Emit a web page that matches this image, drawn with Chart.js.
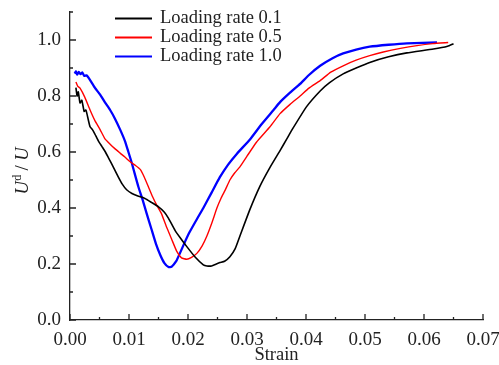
<!DOCTYPE html>
<html>
<head>
<meta charset="utf-8">
<script src="https://cdn.jsdelivr.net/npm/chart.js@4"></script>
<style>
  html, body { margin: 0; padding: 0; background: #fff; }
  #wrap { width: 499px; height: 365px; }
</style>
</head>
<body>
<div id="wrap"><canvas id="chart" width="499" height="365"></canvas></div>
<script>
/* data */
var labels = ["Loading rate 0.1", "Loading rate 0.5", "Loading rate 1.0"];
var colors = ["#000000", "#ff0000", "#0000ff"];

var strain01 = [0.0010, 0.0012, 0.0014, 0.0017, 0.0020, 0.0024, 0.0027, 0.0031, 0.0034, 0.0038, 0.0042, 0.0048, 0.0054, 0.0060, 0.0065, 0.0070, 0.0076, 0.0082, 0.0088, 0.0096, 0.0105, 0.0115, 0.0127, 0.0138, 0.0150, 0.0160, 0.0167, 0.0178, 0.0188, 0.0198, 0.0212, 0.0226, 0.0232, 0.0240, 0.0248, 0.0254, 0.0262, 0.0271, 0.0280, 0.0288, 0.0305, 0.0322, 0.0339, 0.0356, 0.0367, 0.0378, 0.0401, 0.0424, 0.0440, 0.0463, 0.0485, 0.0508, 0.0540, 0.0571, 0.0616, 0.0640, 0.0650];
var ratio01  = [0.830, 0.800, 0.815, 0.775, 0.785, 0.745, 0.750, 0.715, 0.690, 0.680, 0.665, 0.640, 0.620, 0.600, 0.580, 0.560, 0.535, 0.510, 0.487, 0.465, 0.452, 0.443, 0.434, 0.420, 0.404, 0.385, 0.363, 0.320, 0.290, 0.262, 0.225, 0.197, 0.193, 0.193, 0.200, 0.205, 0.210, 0.226, 0.255, 0.300, 0.395, 0.478, 0.545, 0.605, 0.645, 0.685, 0.762, 0.818, 0.848, 0.879, 0.900, 0.920, 0.940, 0.954, 0.968, 0.978, 0.987];

var strain05 = [0.0010, 0.0013, 0.0017, 0.0025, 0.0034, 0.0042, 0.0051, 0.0059, 0.0068, 0.0076, 0.0085, 0.0093, 0.0102, 0.0111, 0.0119, 0.0126, 0.0133, 0.0140, 0.0147, 0.0155, 0.0164, 0.0172, 0.0181, 0.0189, 0.0198, 0.0206, 0.0215, 0.0224, 0.0232, 0.0241, 0.0249, 0.0256, 0.0263, 0.0271, 0.0279, 0.0288, 0.0300, 0.0316, 0.0339, 0.0356, 0.0373, 0.0390, 0.0405, 0.0424, 0.0442, 0.0463, 0.0485, 0.0508, 0.0531, 0.0560, 0.0588, 0.0615, 0.0641];
var ratio05  = [0.850, 0.835, 0.828, 0.796, 0.750, 0.713, 0.680, 0.648, 0.628, 0.612, 0.596, 0.582, 0.565, 0.552, 0.538, 0.510, 0.475, 0.440, 0.410, 0.380, 0.330, 0.290, 0.245, 0.222, 0.217, 0.224, 0.238, 0.265, 0.300, 0.350, 0.400, 0.435, 0.464, 0.500, 0.525, 0.547, 0.585, 0.635, 0.690, 0.737, 0.770, 0.800, 0.828, 0.855, 0.885, 0.908, 0.928, 0.944, 0.957, 0.970, 0.980, 0.987, 0.991];

var strain10 = [0.0008, 0.0010, 0.0012, 0.0015, 0.0018, 0.0021, 0.0024, 0.0028, 0.0033, 0.0042, 0.0051, 0.0059, 0.0068, 0.0076, 0.0085, 0.0093, 0.0099, 0.0105, 0.0110, 0.0116, 0.0123, 0.0130, 0.0138, 0.0146, 0.0153, 0.0160, 0.0167, 0.0172, 0.0180, 0.0186, 0.0195, 0.0203, 0.0215, 0.0226, 0.0240, 0.0254, 0.0268, 0.0283, 0.0305, 0.0325, 0.0345, 0.0356, 0.0372, 0.0390, 0.0405, 0.0424, 0.0445, 0.0463, 0.0485, 0.0508, 0.0540, 0.0571, 0.0622];
var ratio10  = [0.880, 0.888, 0.876, 0.886, 0.878, 0.884, 0.872, 0.874, 0.860, 0.830, 0.805, 0.778, 0.750, 0.720, 0.680, 0.640, 0.600, 0.559, 0.520, 0.475, 0.430, 0.380, 0.325, 0.270, 0.232, 0.203, 0.189, 0.190, 0.210, 0.237, 0.280, 0.315, 0.360, 0.400, 0.455, 0.510, 0.555, 0.594, 0.645, 0.700, 0.750, 0.778, 0.810, 0.843, 0.875, 0.908, 0.935, 0.952, 0.966, 0.976, 0.983, 0.988, 0.991];

var xTicks = [0, 0.01, 0.02, 0.03, 0.04, 0.05, 0.06, 0.07];
var yTicks = [0, 0.2, 0.4, 0.6, 0.8, 1.0];

function pts(xs, ys) {
  var out = [];
  for (var i = 0; i < xs.length; i++) out.push({ x: xs[i], y: ys[i] });
  return out;
}

var serif = "'Liberation Serif', 'DejaVu Serif', serif";

/* inward major + minor ticks, titles and legend */
var decor = {
  id: 'decor',
  afterDraw: function (chart) {
    var c = chart.ctx, xs = chart.scales.x, ys = chart.scales.y, a = chart.chartArea;
    c.save();
    c.strokeStyle = '#222';
    c.lineWidth = 1.3;
    c.beginPath();
    for (var i = 0; i < xTicks.length; i++) {
      var px = xs.getPixelForValue(xTicks[i]);
      c.moveTo(px, a.bottom); c.lineTo(px, a.bottom - 6);
      if (i < xTicks.length - 1) {
        var mx = xs.getPixelForValue((xTicks[i] + xTicks[i + 1]) / 2);
        c.moveTo(mx, a.bottom); c.lineTo(mx, a.bottom - 3);
      }
    }
    for (var j = 0; j < yTicks.length; j++) {
      var py = ys.getPixelForValue(yTicks[j]);
      c.moveTo(a.left, py); c.lineTo(a.left + 6, py);
      var my = ys.getPixelForValue(yTicks[j] + 0.1);
      c.moveTo(a.left, my); c.lineTo(a.left + 3, my);
    }
    c.stroke();

    // x title
    c.fillStyle = '#222';
    c.font = '18.5px ' + serif;
    c.textAlign = 'center';
    c.textBaseline = 'middle';
    c.fillText('Strain', (a.left + a.right) / 2, 355);

    // y title: U^d / U
    c.translate(22, 171);
    c.rotate(-Math.PI / 2);
    var fI = 'italic 18.5px ' + serif, fN = '18.5px ' + serif, fS = '12px ' + serif;
    c.font = fI; var w1 = c.measureText('U').width;
    c.font = fS; var w2 = c.measureText('d').width;
    c.font = fN; var w3 = c.measureText(' / ').width;
    c.font = fI; var w4 = c.measureText('U').width;
    var x0 = -(w1 + w2 + w3 + w4) / 2;
    c.textAlign = 'left';
    c.textBaseline = 'alphabetic';
    c.font = fI; c.fillText('U', x0, 6);
    c.font = fS; c.fillText('d', x0 + w1 + 0.5, -1);
    c.font = fN; c.fillText(' / ', x0 + w1 + w2, 6);
    c.font = fI; c.fillText('U', x0 + w1 + w2 + w3, 6);
    c.setTransform(1, 0, 0, 1, 0, 0);

    // legend
    c.font = '18.5px ' + serif;
    c.textAlign = 'left';
    c.textBaseline = 'middle';
    var ds = chart.data.datasets;
    for (var k = 0; k < ds.length; k++) {
      var ly = 18.5 + k * 19;
      c.strokeStyle = ds[k].borderColor;
      c.lineWidth = 2;
      c.beginPath();
      c.moveTo(115, ly); c.lineTo(152, ly);
      c.stroke();
      c.fillStyle = '#222';
      c.fillText(ds[k].label, 160, ly);
    }
    c.restore();
  }
};

var ctx = document.getElementById('chart').getContext('2d');
var chart = new Chart(ctx, {
  type: 'scatter',
  data: {
    datasets: [
      { label: labels[0], data: pts(strain01, ratio01), borderColor: colors[0], borderWidth: 1.6 },
      { label: labels[1], data: pts(strain05, ratio05), borderColor: colors[1], borderWidth: 1.4 },
      { label: labels[2], data: pts(strain10, ratio10), borderColor: colors[2], borderWidth: 2.3 }
    ]
  },
  options: {
    responsive: false,
    animation: false,
    showLine: true,
    elements: {
      point: { radius: 0, hoverRadius: 0 },
      line: { tension: 0.15, fill: false }
    },
    layout: { padding: { top: 12, right: 16, left: 0, bottom: 0 } },
    plugins: { legend: { display: false }, tooltip: { enabled: false } },
    scales: {
      x: {
        type: 'linear', min: 0, max: 0.07,
        grid: { display: false, drawTicks: false },
        border: { display: true, color: '#222', width: 1.3 },
        ticks: {
          stepSize: 0.01, padding: 9, color: '#222', maxRotation: 0,
          font: { family: serif, size: 19 },
          callback: function (v) { return v.toFixed(2); }
        },
        afterFit: function (s) {
          s.height = 45;
          s.paddingLeft = 0; s.paddingRight = 0;
        }
      },
      y: {
        type: 'linear', min: 0, max: 1.1,
        grid: { display: false, drawTicks: false },
        border: { display: true, color: '#222', width: 1.3 },
        ticks: {
          stepSize: 0.2, padding: 9, color: '#222',
          font: { family: serif, size: 19 },
          callback: function (v) { return v.toFixed(1); }
        },
        afterBuildTicks: function (s) {
          s.ticks = yTicks.map(function (v) { return { value: v }; });
        },
        afterFit: function (s) {
          s.width = 70;
          s.paddingTop = 0; s.paddingBottom = 0;
        }
      }
    }
  },
  plugins: [decor]
});
</script>
</body>
</html>
